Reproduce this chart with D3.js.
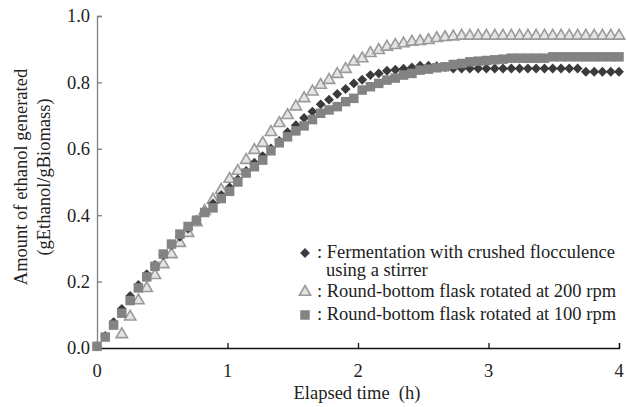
<!DOCTYPE html>
<html>
<head>
<meta charset="utf-8">
<script src="https://cdn.jsdelivr.net/npm/d3@7"></script>
<style>
  body { margin: 0; background: #fff; }
  svg { display: block; font-family: "Liberation Serif", "Times New Roman", serif; }
</style>
</head>
<body>
<svg id="chart" width="627" height="407"></svg>
<script>
// elapsed time (h), one sample roughly every 3.8 min
const times = [0, 0.063, 0.127, 0.190, 0.254, 0.317, 0.381, 0.444, 0.508, 0.571,
  0.635, 0.698, 0.762, 0.825, 0.889, 0.952, 1.016, 1.079, 1.143, 1.206,
  1.270, 1.333, 1.397, 1.460, 1.524, 1.587, 1.651, 1.714, 1.778, 1.841,
  1.905, 1.968, 2.032, 2.095, 2.159, 2.222, 2.286, 2.349, 2.413, 2.476,
  2.540, 2.603, 2.667, 2.730, 2.794, 2.857, 2.921, 2.984, 3.048, 3.111,
  3.175, 3.238, 3.302, 3.365, 3.429, 3.492, 3.556, 3.619, 3.683, 3.746,
  3.810, 3.873, 3.937, 4.000];

// crushed flocculence with stirrer (diamonds)
const stirrer = [0.005, 0.036, 0.078, 0.118, 0.157, 0.190, 0.222, 0.250, 0.280, 0.310,
  0.335, 0.360, 0.385, 0.410, 0.435, 0.460, 0.484, 0.508, 0.533, 0.558,
  0.578, 0.601, 0.624, 0.650, 0.671, 0.693, 0.712, 0.734, 0.748, 0.765,
  0.780, 0.797, 0.808, 0.822, 0.827, 0.835, 0.838, 0.841, 0.845, 0.850,
  0.850, 0.849, 0.846, 0.842, 0.842, 0.842, 0.842, 0.842, 0.842, 0.842,
  0.842, 0.842, 0.842, 0.842, 0.842, 0.842, 0.842, 0.842, 0.842, 0.832,
  0.832, 0.832, 0.832, 0.832];

// round-bottom flask 200 rpm (triangles); first samples not shown
const rpm200 = [null, null, null, 0.041, 0.094, 0.143, 0.180, 0.219, 0.252, 0.282,
  0.316, 0.346, 0.378, 0.412, 0.446, 0.476, 0.509, 0.533, 0.566, 0.596,
  0.617, 0.650, 0.677, 0.701, 0.727, 0.752, 0.772, 0.792, 0.807, 0.825,
  0.840, 0.862, 0.872, 0.888, 0.897, 0.907, 0.912, 0.917, 0.922, 0.924,
  0.927, 0.933, 0.936, 0.938, 0.940, 0.940, 0.940, 0.940, 0.940, 0.940,
  0.940, 0.940, 0.940, 0.940, 0.940, 0.940, 0.940, 0.940, 0.940, 0.940,
  0.940, 0.940, 0.940, 0.940];

// round-bottom flask 100 rpm (squares)
const rpm100 = [0.005, 0.033, 0.069, 0.105, 0.143, 0.181, 0.214, 0.246, 0.283, 0.313,
  0.343, 0.366, 0.385, 0.408, 0.422, 0.450, 0.472, 0.500, 0.527, 0.546,
  0.566, 0.594, 0.618, 0.636, 0.654, 0.669, 0.688, 0.707, 0.717, 0.727,
  0.742, 0.752, 0.777, 0.787, 0.797, 0.807, 0.813, 0.822, 0.827, 0.837,
  0.840, 0.844, 0.847, 0.854, 0.857, 0.862, 0.864, 0.866, 0.868, 0.870,
  0.873, 0.873, 0.873, 0.873, 0.873, 0.877, 0.877, 0.877, 0.877, 0.877,
  0.877, 0.877, 0.877, 0.877];

const xTicks = [0, 1, 2, 3, 4];
const yTicks = [0, 0.2, 0.4, 0.6, 0.8, 1.0];

const legendLabels = [
  [": Fermentation with crushed flocculence", "using a stirrer"],
  [": Round-bottom flask rotated at 200 rpm"],
  [": Round-bottom flask rotated at 100 rpm"]
];

const svg = d3.select("#chart");
const fontSize = "18.5px";

const x = d3.scaleLinear().domain([0, 4]).range([97, 619]);
const y = d3.scaleLinear().domain([0, 1]).range([348, 16]);

// y axis (grey line, ticks pointing inward)
const yAxis = svg.append("g")
    .attr("transform", `translate(${x(0)},0)`)
    .call(d3.axisRight(y).tickValues(yTicks).tickSize(5).tickFormat(""));
yAxis.select(".domain").attr("stroke", "#7f7f7f").attr("stroke-width", 1.3);
yAxis.selectAll(".tick line").attr("stroke", "#7f7f7f").attr("stroke-width", 1.3);

svg.append("g").selectAll("text")
    .data(yTicks)
    .enter()
    .append("text")
    .attr("x", 90)
    .attr("y", d => y(d))
    .attr("dy", "0.35em")
    .attr("text-anchor", "end")
    .style("font-size", fontSize)
    .attr("fill", "#222")
    .text(d => d.toFixed(1));

// x axis (black line, ticks pointing up)
const xAxis = svg.append("g")
    .attr("transform", `translate(0,${y(0)})`)
    .call(d3.axisTop(x).tickValues(xTicks).tickSize(5).tickFormat(""));
xAxis.select(".domain").attr("stroke", "#111").attr("stroke-width", 1.3);
xAxis.selectAll(".tick line").attr("stroke", "#111").attr("stroke-width", 1.3);

svg.append("g").selectAll("text")
    .data(xTicks)
    .enter()
    .append("text")
    .attr("x", d => x(d))
    .attr("y", 377)
    .attr("text-anchor", "middle")
    .style("font-size", fontSize)
    .attr("fill", "#222")
    .text(d => d);

// axis titles
svg.append("text")
    .attr("x", 357)
    .attr("y", 399)
    .attr("text-anchor", "middle")
    .style("font-size", fontSize)
    .attr("fill", "#222")
    .attr("xml:space", "preserve")
    .text("Elapsed time  (h)");

const yTitle = svg.append("text")
    .attr("transform", "translate(27,177) rotate(-90)")
    .attr("text-anchor", "middle")
    .style("font-size", fontSize)
    .attr("fill", "#222");
yTitle.append("tspan").attr("x", 0).attr("y", 0).text("Amount of ethanol generated");
yTitle.append("tspan").attr("x", 0).attr("y", 23).text("(gEthanol/gBiomass)");

// markers
const diamond = d3.symbol().type(d3.symbolDiamond2).size(62);
const triangle = d3.symbol().type(d3.symbolTriangle).size(55);
const square = d3.symbol().type(d3.symbolSquare).size(90);

const styles = {
  rpm200: { path: triangle(), fill: "#e4e4e4", stroke: "#9a9a9a", sw: 1.6 },
  stirrer: { path: diamond(), fill: "#3b3b3b", stroke: "none", sw: 0 },
  rpm100: { path: square(), fill: "#838383", stroke: "none", sw: 0 }
};

function drawSeries(values, st) {
  const pts = times.map((t, i) => ({ t, v: values[i] })).filter(d => d.v !== null);
  svg.append("g").selectAll("path")
      .data(pts)
      .enter()
      .append("path")
      .attr("d", st.path)
      .attr("transform", d => `translate(${x(d.t)},${y(d.v)})`)
      .attr("fill", st.fill)
      .attr("stroke", st.stroke)
      .attr("stroke-width", st.sw);
}

drawSeries(rpm200, styles.rpm200);
drawSeries(stirrer, styles.stirrer);
drawSeries(rpm100, styles.rpm100);

// legend
const legendRows = [
  { style: styles.stirrer, cy: 253, lines: legendLabels[0] },
  { style: styles.rpm200, cy: 292, lines: legendLabels[1] },
  { style: styles.rpm100, cy: 315, lines: legendLabels[2] }
];

legendRows.forEach(row => {
  svg.append("path")
      .attr("d", row.style.path)
      .attr("transform", `translate(305,${row.cy})`)
      .attr("fill", row.style.fill)
      .attr("stroke", row.style.stroke)
      .attr("stroke-width", row.style.sw);
  row.lines.forEach((line, i) => {
    svg.append("text")
        .attr("x", i === 0 ? 317 : 326)
        .attr("y", row.cy + 5 + i * 18)
        .style("font-size", fontSize)
        .attr("fill", "#222")
        .text(line);
  });
});
</script>
</body>
</html>
